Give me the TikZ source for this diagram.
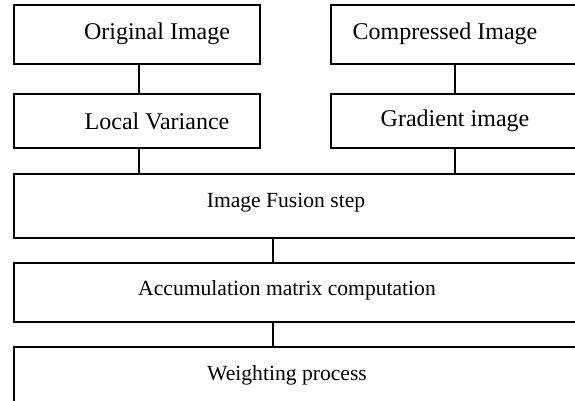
\documentclass[tikz,border=0pt]{standalone}
\usepackage{fontspec}
\setmainfont{Liberation Serif}
\usetikzlibrary{calc}
\begin{document}
\begin{tikzpicture}[x=0.5pt,y=-0.5pt,
    box/.style={draw,line width=0.95pt,rectangle,inner sep=0pt,minimum width=#1},
    lbl/.style={inner sep=0pt,font=\fontsize{12}{14}\selectfont},
    lblb/.style={inner sep=0pt,font=\fontsize{10.8}{13}\selectfont},
    link/.style={line width=0.95pt}]
    \useasboundingbox (0,0) rectangle (575,401);
    \clip (0,0) rectangle (575,401);
    % boxes
    \node[box=123pt,minimum height=29.5pt] (orig) at (137,34.5) {};
    \node[box=123pt,minimum height=27pt] (var) at (137,121) {};
    \node[box=129.5pt,minimum height=29.5pt] (comp) at (460.5,34.5) {};
    \node[box=129.5pt,minimum height=27pt] (grad) at (460.5,121) {};
    \node[box=288pt,minimum height=32pt] (fuse) at (302,206) {};
    \node[box=288pt,minimum height=29.5pt] (accum) at (302,292.5) {};
    \node[box=288pt,minimum height=36.5pt] (weight) at (302,383.5) {};
    % texts
    \node[lbl] (tOrig) at (157,34) {Original Image};
    \node[lbl] (tVar) at (157,121) {Local Variance};
    \node[lbl] (tComp) at (445,34) {Compressed Image};
    \node[lbl] (tGrad) at (455,121) {Gradient image};
    \node[lblb] (tFuse) at (286,203) {Image Fusion step};
    \node[lblb] (tAccum) at (287,290) {Accumulation matrix computation};
    \node[lblb] (tWeight) at (287,375) {Weighting process};
    % links
    \draw[link] ([xshift=1pt]orig.south) -- ([xshift=1pt]var.north);
    \draw[link] ([xshift=-2.75pt]comp.south) -- ([xshift=-2.75pt]grad.north);
    \draw[link] ([xshift=1pt]var.south) -- ([xshift=1pt]var.south |- fuse.north);
    \draw[link] ([xshift=-2.75pt]grad.south) -- ([xshift=-2.75pt]grad.south |- fuse.north);
    \draw[link] ([xshift=-14.5pt]fuse.south) -- ([xshift=-14.5pt]accum.north);
    \draw[link] ([xshift=-14.5pt]accum.south) -- ([xshift=-14.5pt]weight.north);
\end{tikzpicture}
\end{document}
